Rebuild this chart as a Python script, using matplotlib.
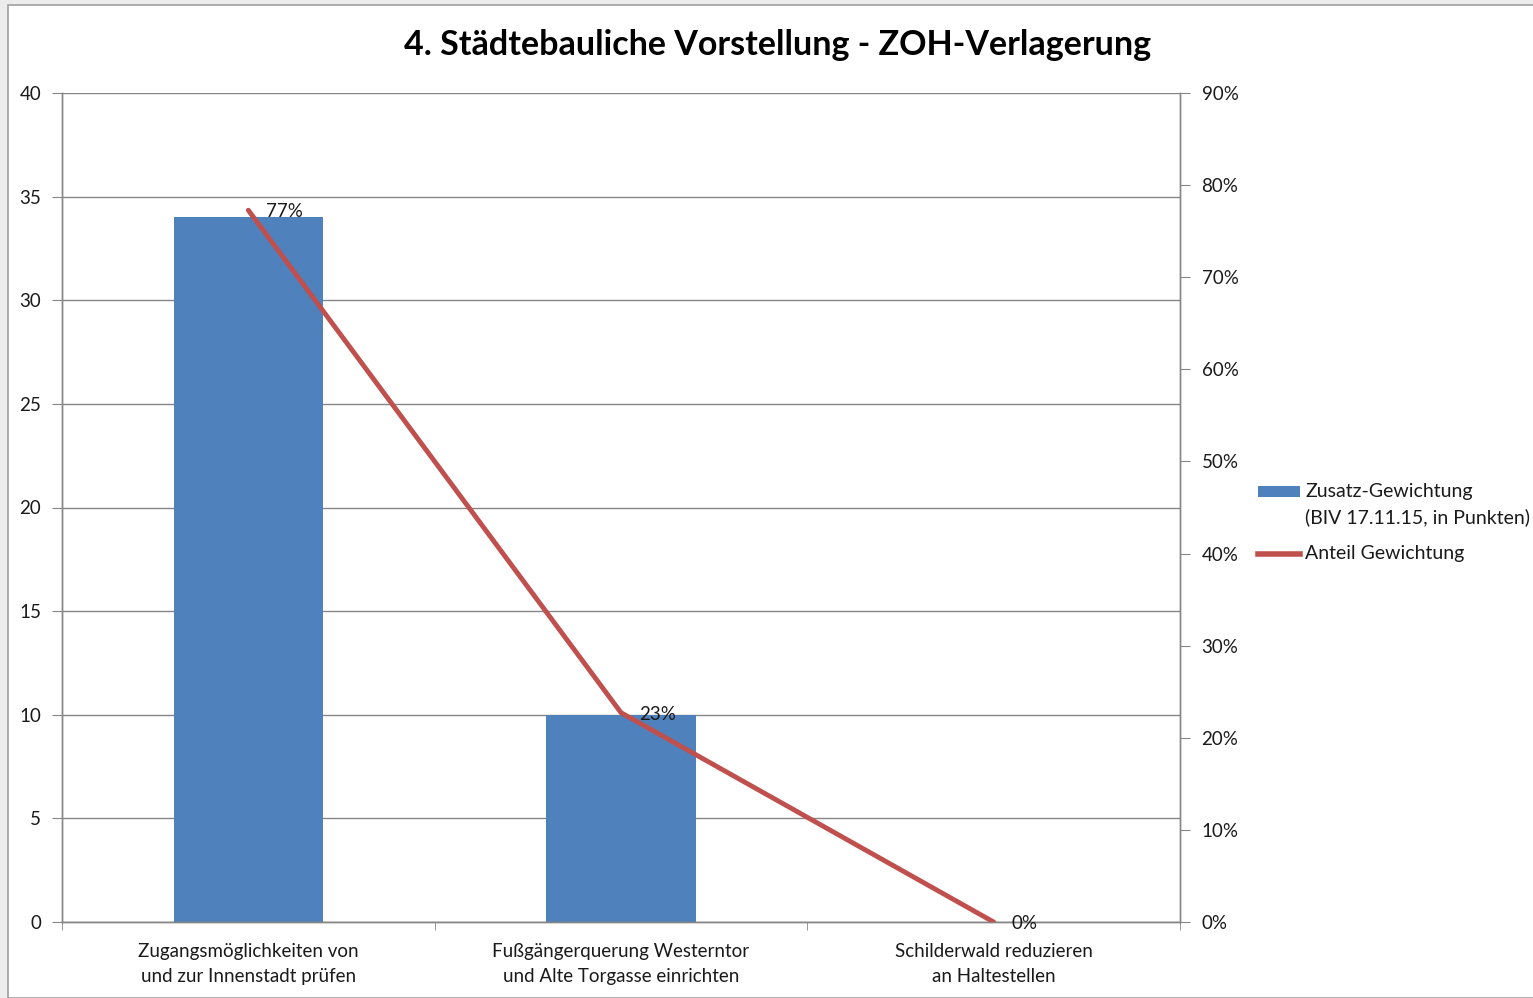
import matplotlib
matplotlib.use("Agg")
import matplotlib.pyplot as plt
import matplotlib.patches as mpatches
import numpy as np

plt.rcParams["font.family"] = ["Lato", "DejaVu Sans"]

# Data
categories = [
    "Zugangsmöglichkeiten von\nund zur Innenstadt prüfen",
    "Fußgängerquerung Westerntor\nund Alte Torgasse einrichten",
    "Schilderwald reduzieren\nan Haltestellen",
]
points = [34, 10, 0]
shares = [34 / 44, 10 / 44, 0.0]
share_labels = ["77%", "23%", "0%"]
bar_label = "Zusatz-Gewichtung\n(BIV 17.11.15, in Punkten)"
line_label = "Anteil Gewichtung"
title = "4. Städtebauliche Vorstellung - ZOH-Verlagerung"

BAR_COLOR = "#4f81bd"
LINE_COLOR = "#c0504d"
GRID = "#868686"
TEXT = "#1a1a1a"

W, H = 1533, 998
fig = plt.figure(figsize=(W / 100, H / 100), dpi=100, facecolor="#ececec")
# white chart frame behind everything
fig.patches.append(mpatches.Rectangle((8 / W, 0), 1.2, (H - 5) / H, transform=fig.transFigure,
                                      facecolor="white", edgecolor="#a0a0a0", linewidth=1.2,
                                      zorder=-10))

ax = fig.add_axes([62 / W, (H - 922) / H, (1180 - 62) / W, (922 - 93) / H])
ax.set_facecolor("white")
ax2 = ax.twinx()

x = np.arange(len(categories))
ax.bar(x, points, width=0.4, color=BAR_COLOR, label=bar_label, zorder=2)
ax.set_xlim(-0.5, 2.5)
ax.set_ylim(0, 40)
ax.set_yticks(np.arange(0, 41, 5))
ax.grid(axis="y", color=GRID, linewidth=1.0, zorder=0)
ax.set_axisbelow(True)

ax.set_xticks(x)
ax.set_xticklabels(categories, fontsize=13.5, linespacing=1.6, color=TEXT)
ax.set_xticks([-0.5, 0.5, 1.5, 2.5], minor=True)
ax.tick_params(axis="x", which="major", length=0, pad=15)
ax.tick_params(axis="x", which="minor", length=6, color=GRID, direction="out")
ax.tick_params(axis="y", length=7, color=GRID, labelsize=13.5, pad=8, labelcolor=TEXT)

ax2.plot(x, shares, color=LINE_COLOR, linewidth=3.5, label=line_label, zorder=3,
         solid_capstyle="round")
ax2.set_ylim(0, 0.9)
ax2.set_yticks(np.arange(0, 0.91, 0.1))
ax2.set_yticklabels([f"{int(round(v * 100))}%" for v in np.arange(0, 0.91, 0.1)])
ax2.tick_params(axis="y", length=7, color=GRID, labelsize=13.5, pad=8.5, labelcolor=TEXT)
for xi, s, lab in zip(x, shares, share_labels):
    ax2.annotate(lab, (xi, s), xytext=(13, -1), textcoords="offset points",
                 fontsize=13.5, va="center", ha="left", color=TEXT)

for a in (ax, ax2):
    a.spines["top"].set_visible(False)
    for side in ("left", "right", "bottom"):
        a.spines[side].set_color(GRID)
        a.spines[side].set_linewidth(1.0)

fig.text(778 / W, 1 - 45 / H, title, ha="center", va="center", fontsize=24.5,
         fontweight="bold", color="black")

# legend, drawn by hand so the swatch sits on the first text line
fig.patches.append(mpatches.Rectangle((1258 / W, 1 - 497 / H), 42 / W, 11 / H,
                                      transform=fig.transFigure, facecolor=BAR_COLOR,
                                      edgecolor="none"))
fig.text(1305 / W, 1 - 483 / H, bar_label, ha="left", va="top", fontsize=14,
         linespacing=1.55, color=TEXT)
fig.lines.append(plt.Line2D([1258 / W, 1300 / W], [1 - 554 / H, 1 - 554 / H],
                            transform=fig.transFigure, color=LINE_COLOR, linewidth=4))
fig.text(1305 / W, 1 - 554 / H, line_label, ha="left", va="center", fontsize=14,
         color=TEXT)

fig.savefig("out.png", dpi=100, facecolor=fig.get_facecolor())
